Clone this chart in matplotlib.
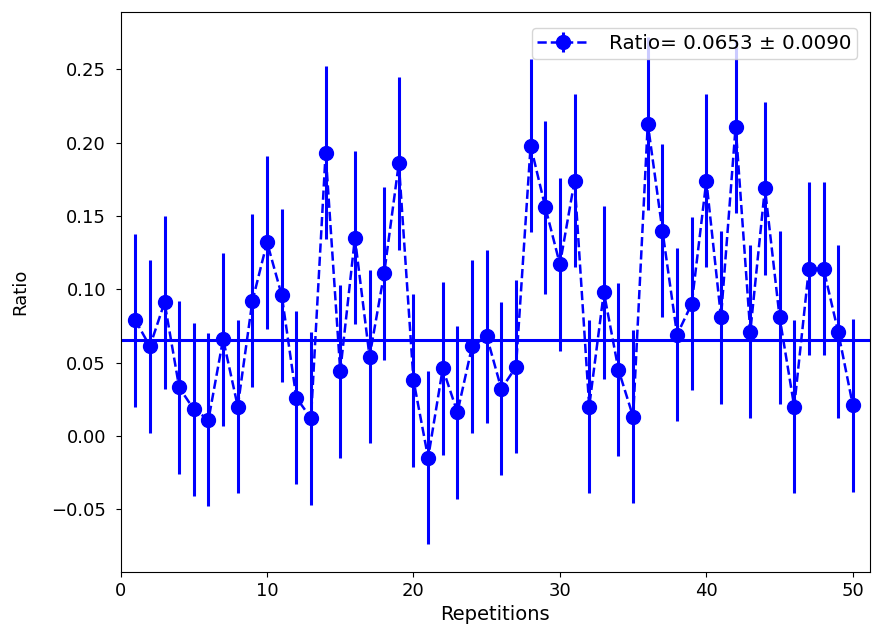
import matplotlib
matplotlib.use("Agg")
import matplotlib.pyplot as plt
import numpy as np

repetitions = list(range(1, 51))
ratios = [0.079, 0.061, 0.091, 0.033, 0.018, 0.011, 0.066, 0.020, 0.092, 0.132,
          0.096, 0.026, 0.012, 0.193, 0.044, 0.135, 0.054, 0.111, 0.186, 0.038,
          -0.015, 0.046, 0.016, 0.061, 0.068, 0.032, 0.047, 0.198, 0.156, 0.117,
          0.174, 0.020, 0.098, 0.045, 0.013, 0.213, 0.140, 0.069, 0.090, 0.174,
          0.081, 0.211, 0.071, 0.169, 0.081, 0.020, 0.114, 0.114, 0.071, 0.021]
errors = [0.059] * 50
mean_ratio = 0.0653
mean_err = 0.0090

fig = plt.figure(figsize=(8.74, 6.4), dpi=100)
ax = fig.add_axes([0.138, 0.106, 0.857, 0.875])

ax.errorbar(repetitions, ratios, yerr=errors, fmt='o--', color='blue',
            markersize=10, linewidth=1.8, elinewidth=2.2,
            label=f"Ratio= {mean_ratio:.4f} ± {mean_err:.4f}")
ax.axhline(mean_ratio, color='blue', linewidth=2.2)

ax.set_xlim(0, 51.15)
ax.set_ylim(-0.093, 0.289)
ax.set_xlabel("Repetitions", fontsize=14)
ax.set_ylabel("Ratio", fontsize=13, labelpad=16)
ax.tick_params(labelsize=13)
ax.tick_params(axis='y', pad=7)
ax.legend(loc='upper right', bbox_to_anchor=(0.997, 0.99), fontsize=14.3,
          handlelength=2.6, handletextpad=1.0, borderpad=0.3)

fig.savefig("out.png", dpi=100)
